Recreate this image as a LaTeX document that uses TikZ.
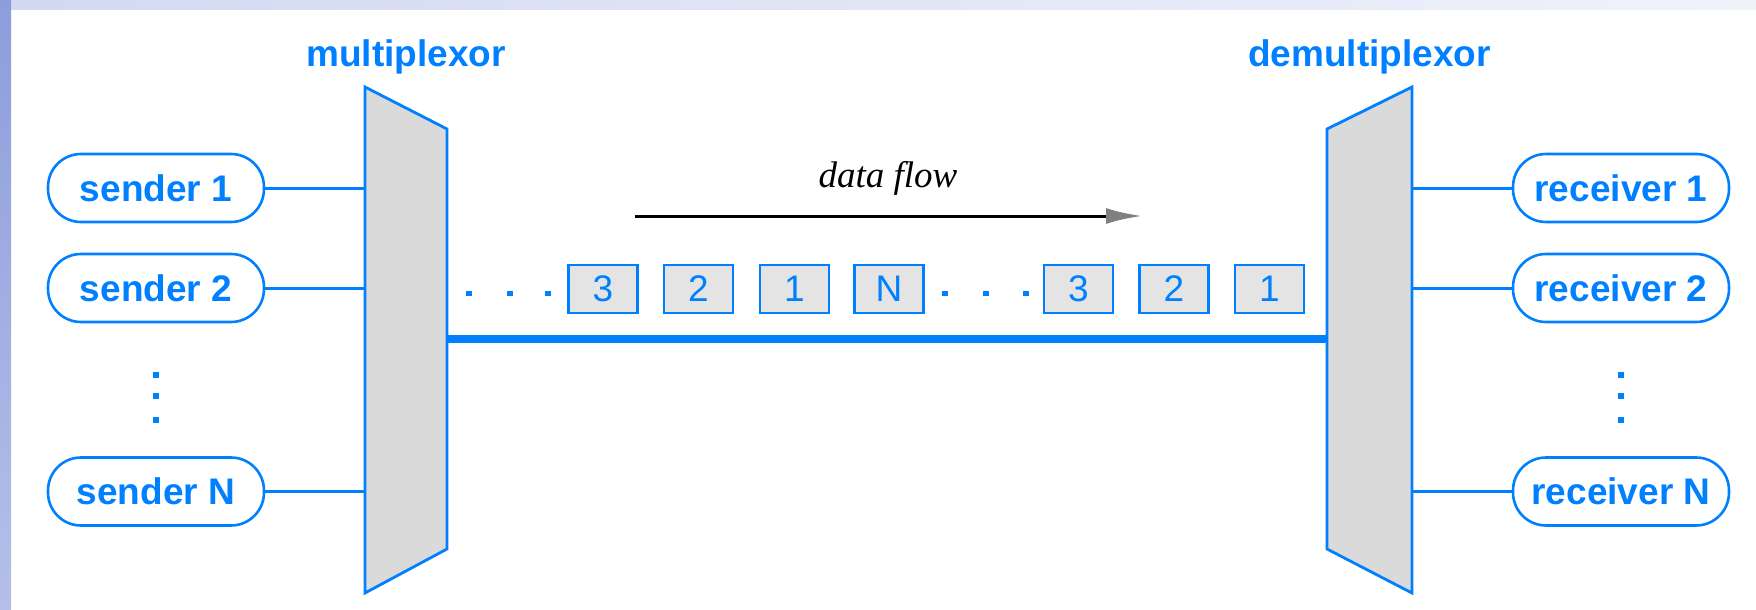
\documentclass[tikz,border=0pt]{standalone}
\usepackage{fontspec}
\setmainfont{Liberation Serif}
\setsansfont{Liberation Sans}
\usetikzlibrary{arrows.meta}
\definecolor{netblue}{RGB}{0,128,255}
\definecolor{muxgray}{RGB}{218,218,218}
\definecolor{pktgray}{RGB}{228,228,228}
\definecolor{slidetop}{RGB}{222,227,245}
\definecolor{slideside}{RGB}{141,157,220}
\begin{document}
\begin{tikzpicture}
[x=0.5pt,y=-0.5pt,line join=miter,%
  every node/.style={font=\sffamily\bfseries,text=netblue},%
  endpoint/.style={draw=netblue,line width=1.3pt,rounded corners=16.5pt,minimum width=108pt,minimum height=34pt,inner sep=0pt},%
  packet/.style={draw=netblue,fill=pktgray,line width=1.3pt,minimum width=34.5pt,minimum height=24pt,inner sep=0pt,font=\sffamily},%
  link/.style={draw=netblue,line width=1.5pt},%
  muxbox/.style={draw=netblue,fill=muxgray,line width=1.4pt},%
  trunk/.style={draw=netblue,line width=4pt}]
\fontsize{18.5}{22}\selectfont
\useasboundingbox (0,0) rectangle (1756,610);
\fill[white] (0,0) rectangle (1756,610);
\shade[left color=slidetop!85!slideside,right color=slidetop!45!white] (0,0) rectangle (1756,10);
\shade[top color=slideside,bottom color=slideside!65!white] (0,0) rectangle (11,610);

\coordinate (mux-nw) at (365,87);
\coordinate (mux-ne) at (447,129);
\coordinate (mux-se) at (447,549);
\coordinate (mux-sw) at (365,593);
\path[muxbox] (mux-nw) -- (mux-ne) -- (mux-se) -- (mux-sw) -- cycle;
\node[anchor=base] (mux-label) at (406,66.7) {multiplexor};

\coordinate (demux-nw) at (1327,129);
\coordinate (demux-ne) at (1412,87);
\coordinate (demux-se) at (1412,593);
\coordinate (demux-sw) at (1327,549);
\path[muxbox] (demux-nw) -- (demux-ne) -- (demux-se) -- (demux-sw) -- cycle;
\node[anchor=base] (demux-label) at (1369.5,66.7) {demultiplexor};

\node[endpoint] (s1) at (156,188) {sender 1};
\node[endpoint] (s2) at (156,288) {sender 2};
\node[endpoint] (sN) at (156,491.5) {sender N};
\node[endpoint] (r1) at (1621,188) {receiver 1};
\node[endpoint] (r2) at (1621,288) {receiver 2};
\node[endpoint] (rN) at (1621,491.5) {receiver N};
\foreach \s in {s1,s2,sN}
  \draw[link] (\s.east) -- (\s.east -| mux-nw);
\foreach \r in {r1,r2,rN}
  \draw[link] (\r.west) -- (\r.west -| demux-ne);
\foreach \x in {156,1621}
  \foreach \y in {375,396,420}
    \fill[netblue] (\x,\y) +(-3,-3) rectangle +(3,3);

\coordinate (tx) at (447,339);
\coordinate (rx) at (1327,339);
\draw[trunk] (tx) -- (rx);

\foreach \x/\t [count=\i] in {603/3,698.5/2,794.5/1,889/N,1078.5/3,1174/2,1269.5/1}
  \node[packet] (p\i) at (\x,289) {\t};
\foreach \x in {469,510,548,945,986,1026}
  \fill[netblue] (\x,293) +(-3,-2.5) rectangle +(3,2.5);

\coordinate (flow-start) at (635,216);
\coordinate (flow-end) at (1142,216);
\draw[line width=1.5pt,-{Latex[length=18pt,width=8pt,color=gray]}] (flow-start) -- (flow-end);
\node[anchor=base,font=\rmfamily\itshape,text=black] (flow-label) at (888,187.3) {data flow};
\end{tikzpicture}
\end{document}
